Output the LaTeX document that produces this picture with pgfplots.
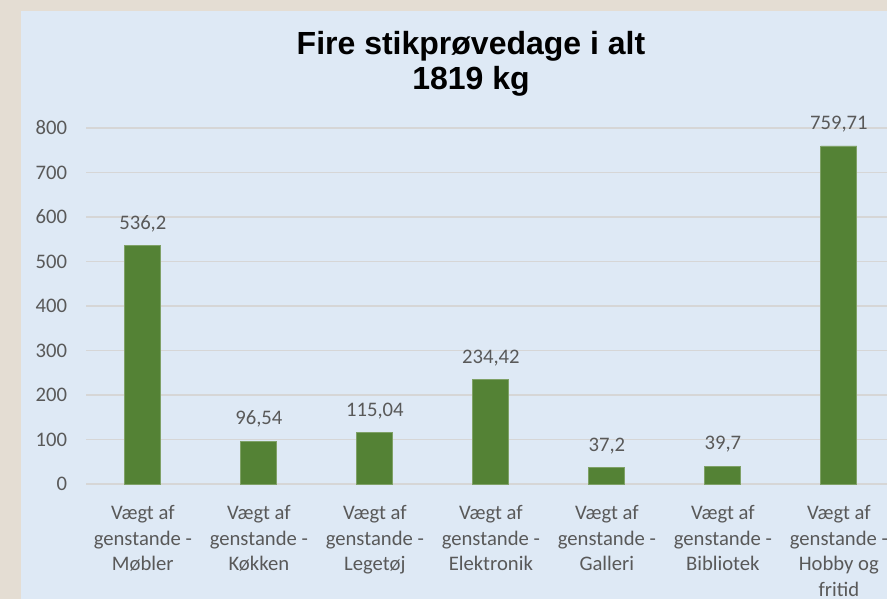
\documentclass[border=0pt]{standalone}
\usepackage{fontspec}
\setmainfont{Carlito}
\newfontfamily\titlefont{Liberation Sans}
\usepackage{pgfplots}
\pgfplotsset{compat=1.18}
\definecolor{bgbeige}{HTML}{E4DDD3}
\definecolor{panel}{HTML}{DEE9F5}
\definecolor{bargreen}{HTML}{548235}
\definecolor{gridc}{HTML}{D6D6D6}
\definecolor{txt}{HTML}{595959}
\begin{document}
\begin{tikzpicture}[x=0.75pt,y=0.75pt]
\useasboundingbox (0,0) rectangle (887,599);
\clip (0,0) rectangle (887,599);
\fill[bgbeige] (0,0) rectangle (887,599);
\fill[panel] (21,0) rectangle (887,588);
\node[font=\titlefont\bfseries\fontsize{24}{26.5}\selectfont, align=center] at (471,535) {Fire stikprøvedage i alt\\1819 kg};
\begin{axis}[
  at={(64.5pt,86.25pt)}, anchor=south west, scale only axis,
  width=609pt, height=267pt,
  xmin=-0.49, xmax=6.51, ymin=0, ymax=800,
  ytick={0,100,...,800},
  xtick={0,...,6},
  xticklabels={{Vægt af\\genstande -\\Møbler},{Vægt af\\genstande -\\Køkken},{Vægt af\\genstande -\\Legetøj},{Vægt af\\genstande -\\Elektronik},{Vægt af\\genstande -\\Galleri},{Vægt af\\genstande -\\Bibliotek},{Vægt af\\genstande -\\Hobby og\\fritid}},
  axis line style={draw=none},
  tick style={draw=none},
  ymajorgrids,
  major grid style={gridc, line width=1.1pt},
  /pgf/number format/assume math mode=true,
  yticklabel style={font=\fontsize{15.5}{18}\selectfont, text=txt, anchor=east, inner sep=0pt, xshift=-14pt},
  xticklabel style={font=\fontsize{15.5}{19.2}\selectfont, text=txt, align=center, anchor=north, inner sep=0pt, yshift=-16pt},
  clip=false,
]
\addplot[ybar, bar width=27pt, fill=bargreen, draw=bargreen!75!white, line width=0.6pt,
  nodes near coords, point meta=explicit symbolic,
  every node near coord/.style={font=\fontsize{15.5}{18}\selectfont, text=txt, anchor=south, inner sep=0pt, yshift=10pt}]
table[x=x, y=y, meta=label] {
x y label
0 536.2 536,2
1 96.54 96,54
2 115.04 115,04
3 234.42 234,42
4 37.2 37,2
5 39.7 39,7
6 759.71 759,71
};
\end{axis}
\end{tikzpicture}
\end{document}
